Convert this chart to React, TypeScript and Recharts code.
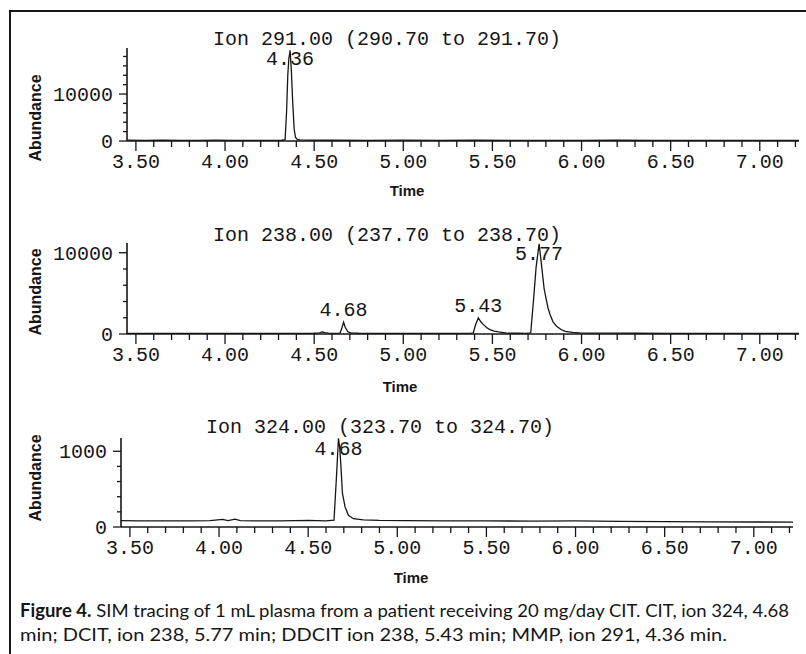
import { LineChart, Line, XAxis, YAxis, ReferenceDot, Label } from 'recharts';

const INK = '#161616';
const MONO = "'Courier New', 'Liberation Mono', monospace";
const SANS = "'Liberation Sans', Arial, sans-serif";
const CAPTION = "Lato, 'Open Sans', sans-serif";

// --- time axis (minutes) ---
const timeDomain = [3.45, 7.22];
const timeTicks = [
  3.5, 3.6, 3.7, 3.8, 3.9, 4.0, 4.1, 4.2, 4.3, 4.4, 4.5, 4.6, 4.7, 4.8, 4.9,
  5.0, 5.1, 5.2, 5.3, 5.4, 5.5, 5.6, 5.7, 5.8, 5.9, 6.0, 6.1, 6.2, 6.3, 6.4,
  6.5, 6.6, 6.7, 6.8, 6.9, 7.0, 7.1, 7.2,
];
const timeLabels = [3.5, 4.0, 4.5, 5.0, 5.5, 6.0, 6.5, 7.0];

// --- Ion 291 (MMP) ---
const ion291Time = [
  3.45, 3.55, 3.65, 3.75, 3.85, 3.95, 4.05, 4.15, 4.25, 4.32,
  4.337, 4.345, 4.352, 4.358, 4.365, 4.372, 4.38, 4.388, 4.395, 4.405,
  4.42, 4.48, 4.6, 4.8, 5.0, 5.2, 5.4, 5.6, 5.8, 6.0,
  6.2, 6.4, 6.6, 6.8, 7.0, 7.22,
];
const ion291Abund = [
  180, 150, 160, 140, 150, 170, 150, 140, 150, 160,
  300, 6000, 14000, 17500, 19300, 15000, 8000, 2500, 800, 350,
  220, 180, 160, 150, 170, 150, 160, 150, 140, 150,
  160, 150, 140, 150, 150, 150,
];
const ion291Peaks = ['4.36'];
const ion291Ticks = [0, 2000, 4000, 6000, 8000, 10000, 12000, 14000, 16000, 18000];
const ion291Labels = [0, 10000];

// --- Ion 238 (DCIT, DDCIT) ---
const ion238Time = [
  3.45, 3.6, 3.8, 4.0, 4.2, 4.4, 4.5, 4.53, 4.545, 4.56,
  4.58, 4.62, 4.645, 4.655, 4.665, 4.675, 4.69, 4.71, 4.75, 4.85,
  5.0, 5.15, 5.3, 5.38, 5.393, 5.405, 5.421, 5.435, 5.45, 5.47,
  5.487, 5.51, 5.534, 5.58, 5.64, 5.69, 5.715, 5.73, 5.745, 5.762,
  5.777, 5.79, 5.8, 5.812, 5.824, 5.84, 5.86, 5.885, 5.908, 5.95,
  5.99, 6.05, 6.15, 6.3, 6.5, 6.7, 6.9, 7.1, 7.22,
];
const ion238Abund = [
  80, 70, 80, 70, 80, 70, 90, 130, 250, 160,
  100, 80, 120, 700, 1450, 800, 250, 120, 90, 80,
  70, 80, 70, 80, 150, 1100, 1975, 1500, 1150, 750,
  530, 360, 250, 120, 90, 80, 150, 4000, 8200, 11100,
  8200, 5600, 4480, 3200, 2380, 1500, 940, 550, 320, 200,
  150, 120, 100, 90, 80, 80, 70, 70, 70,
];
const ion238Peaks = ['4.68', '5.43', '5.77'];
const ion238Ticks = [0, 2000, 4000, 6000, 8000, 10000];
const ion238Labels = [0, 10000];

// --- Ion 324 (CIT) ---
const ion324Time = [
  3.45, 3.55, 3.7, 3.85, 3.95, 4.02, 4.05, 4.09, 4.12, 4.2,
  4.35, 4.5, 4.6, 4.645, 4.658, 4.67, 4.677, 4.683, 4.692, 4.707,
  4.726, 4.754, 4.81, 4.9, 5.05, 5.25, 5.5, 5.75, 6.0, 6.25,
  6.5, 6.75, 7.0, 7.22,
];
const ion324Abund = [
  85, 80, 80, 82, 85, 100, 85, 105, 85, 80,
  82, 88, 82, 90, 630, 1170, 1050, 840, 450, 265,
  155, 110, 95, 88, 85, 82, 80, 78, 80, 75,
  72, 68, 66, 65,
];
const ion324Peaks = ['4.68'];
const ion324Ticks = [0, 200, 400, 600, 800, 1000];
const ion324Labels = [0, 1000];

const W = 806;

interface PanelProps {
  title: string;
  time: number[];
  abundance: number[];
  peaks: string[];
  yMax: number;
  yTicks: number[];
  yLabels: number[];
  // layout, in page pixels
  top: number;
  height: number;
  shiftX: number;
  plotTop: number;
  plotBottom: number;
  titleX: number;
  titleY: number;
  timeX: number;
  timeY: number;
  abundY: number;
}

const isMajor = (v: number) => timeLabels.some((m) => Math.abs(m - v) < 1e-6);

function TimeTick({ x, y, payload }: any) {
  const major = isMajor(payload.value);
  return (
    <g>
      <line x1={x} x2={x} y1={y} y2={y + (major ? 10 : 6)} stroke={INK} strokeWidth={1.3} />
      {major && (
        <text x={x} y={y + 27} textAnchor="middle" fontFamily={MONO} fontSize={20} fill={INK}>
          {payload.value.toFixed(2)}
        </text>
      )}
    </g>
  );
}

function makeAbundTick(labels: number[]) {
  return function AbundTick({ x, y, payload }: any) {
    const major = labels.includes(payload.value);
    return (
      <g>
        <line x1={x - (major ? 8 : 4)} x2={x} y1={y} y2={y} stroke={INK} strokeWidth={1.3} />
        {major && (
          <text x={x - 14} y={y} dy="0.36em" textAnchor="end" fontFamily={MONO} fontSize={20} fill={INK}>
            {payload.value}
          </text>
        )}
      </g>
    );
  };
}

function Panel(p: PanelProps) {
  const data = p.time.map((t, i) => ({ t, a: p.abundance[i] }));
  const cx = (x: number) => x - p.shiftX;
  const cy = (y: number) => y - p.top;
  const plotTop = cy(p.plotTop);

  // each label sits on the tallest point near its retention time
  const apexes = p.peaks.map((lbl) => {
    const rt = Number(lbl);
    const near = data.filter((d) => Math.abs(d.t - rt) < 0.03);
    const apex = near.reduce((b, d) => (d.a > b.a ? d : b), near[0]);
    return { lbl, ...apex };
  });

  return (
    <div style={{ position: 'absolute', left: p.shiftX, top: p.top }}>
      <LineChart
        width={W}
        height={p.height}
        data={data}
        margin={{ top: plotTop, right: 7, left: 0, bottom: 0 }}
      >
        <text x={cx(p.titleX)} y={cy(p.titleY)} textAnchor="middle" fontFamily={MONO} fontSize={20} fill={INK}>
          {p.title}
        </text>
        <XAxis
          dataKey="t"
          type="number"
          domain={timeDomain}
          allowDataOverflow
          ticks={timeTicks}
          interval={0}
          tickSize={0}
          tickMargin={0}
          tickLine={false}
          tick={TimeTick}
          axisLine={{ stroke: INK, strokeWidth: 1.6 }}
          height={p.height - cy(p.plotBottom)}
        >
          <Label
            content={() => (
              <text x={cx(p.timeX)} y={cy(p.timeY)} textAnchor="middle" fontFamily={SANS} fontWeight="bold" fontSize={15} fill={INK}>
                Time
              </text>
            )}
          />
        </XAxis>
        <YAxis
          type="number"
          domain={[0, p.yMax]}
          allowDataOverflow
          ticks={p.yTicks}
          interval={0}
          tickSize={0}
          tickMargin={0}
          tickLine={false}
          tick={makeAbundTick(p.yLabels)}
          axisLine={{ stroke: INK, strokeWidth: 1.6 }}
          width={127}
        >
          <Label
            content={() => (
              <text
                x={cx(35)}
                y={cy(p.abundY)}
                transform={`rotate(-90, ${cx(35)}, ${cy(p.abundY)})`}
                textAnchor="middle"
                dominantBaseline="central"
                fontFamily={SANS}
                fontWeight="bold"
                fontSize={16}
                fill={INK}
              >
                Abundance
              </text>
            )}
          />
        </YAxis>
        <Line
          type="linear"
          dataKey="a"
          stroke={INK}
          strokeWidth={1.3}
          dot={false}
          activeDot={false}
          isAnimationActive={false}
        />
        {apexes.map((pk) => (
          <ReferenceDot
            key={pk.lbl}
            x={pk.t}
            y={pk.a}
            r={1}
            fill="none"
            stroke="none"
            ifOverflow="visible"
            label={(lp: any) => {
              const vb = lp.viewBox;
              const px = vb.x + vb.width / 2;
              const apexY = vb.y + vb.height / 2;
              return (
                <text
                  x={px}
                  y={Math.max(apexY - 6, plotTop + 17)}
                  textAnchor="middle"
                  fontFamily={MONO}
                  fontSize={20}
                  fill={INK}
                >
                  {pk.lbl}
                </text>
              );
            }}
          />
        ))}
      </LineChart>
    </div>
  );
}

export default function App() {
  return (
    <div style={{ position: 'absolute', left: 0, top: 0, width: W, height: 654, background: '#fff', overflow: 'hidden' }}>
      <div
        style={{
          position: 'absolute', left: 9, top: 10, width: 820, height: 660,
          borderTop: `2px solid ${INK}`, borderLeft: `2px solid ${INK}`,
        }}
      />
      <Panel
        title="Ion 291.00 (290.70 to 291.70)"
        time={ion291Time}
        abundance={ion291Abund}
        peaks={ion291Peaks}
        yMax={19800}
        yTicks={ion291Ticks}
        yLabels={ion291Labels}
        top={0}
        height={200}
        shiftX={0}
        plotTop={48}
        plotBottom={141}
        titleX={387}
        titleY={45}
        timeX={407}
        timeY={196}
        abundY={118}
      />
      <Panel
        title="Ion 238.00 (237.70 to 238.70)"
        time={ion238Time}
        abundance={ion238Abund}
        peaks={ion238Peaks}
        yMax={11200}
        yTicks={ion238Ticks}
        yLabels={ion238Labels}
        top={200}
        height={200}
        shiftX={0}
        plotTop={243}
        plotBottom={334}
        titleX={387}
        titleY={241}
        timeX={400}
        timeY={392}
        abundY={292}
      />
      <Panel
        title="Ion 324.00 (323.70 to 324.70)"
        time={ion324Time}
        abundance={ion324Abund}
        peaks={ion324Peaks}
        yMax={1175}
        yTicks={ion324Ticks}
        yLabels={ion324Labels}
        top={400}
        height={190}
        shiftX={-6}
        plotTop={438}
        plotBottom={527}
        titleX={380}
        titleY={433}
        timeX={411}
        timeY={583}
        abundY={478}
      />
      <svg width={W} height={60} style={{ position: 'absolute', left: 0, top: 594 }}>
        <text x={20} y={23} fontFamily={CAPTION} fontSize={18} fill={INK} textLength={769} lengthAdjust="spacingAndGlyphs">
          <tspan fontWeight="bold">Figure 4.</tspan> SIM tracing of 1 mL plasma from a patient receiving 20 mg/day CIT. CIT, ion 324, 4.68
        </text>
        <text x={20} y={47} fontFamily={CAPTION} fontSize={18} fill={INK} textLength={707} lengthAdjust="spacingAndGlyphs">
          min; DCIT, ion 238, 5.77 min; DDCIT ion 238, 5.43 min; MMP, ion 291, 4.36 min.
        </text>
      </svg>
    </div>
  );
}
